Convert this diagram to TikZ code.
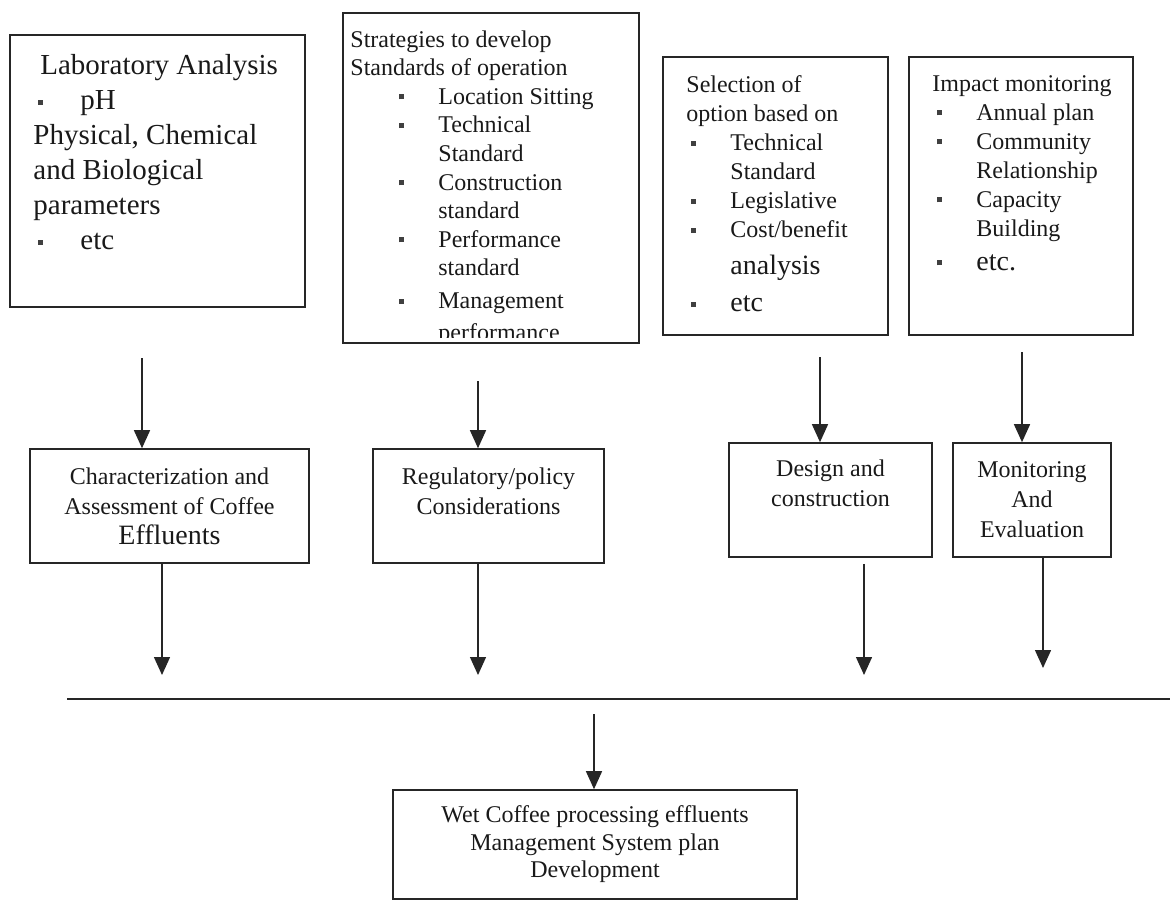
\documentclass[tikz,border=0pt]{standalone}
\usepackage{fontspec}
\setmainfont{Liberation Serif}
\usetikzlibrary{arrows.meta}

% small square bullet and hanging lines
\newcommand{\sqb}{\textcolor{black!75}{\rule[2.4pt]{2.5pt}{2.5pt}}}
\newcommand{\bitem}[2]{\hspace*{#1}\makebox[19.5pt][l]{\sqb}#2}
\newcommand{\bcont}[2]{\hspace*{\dimexpr#1+19.5pt\relax}#2}

\begin{document}
\begin{tikzpicture}[x=0.5pt,y=-0.5pt,
    box/.style={draw=black!85, line width=0.8pt, inner sep=0pt},
    midbox/.style={box, align=center, text=black!90, font=\fontsize{12}{15}\selectfont},
    txt/.style={anchor=north west, inner sep=0pt, align=left, text=black!90, font=\fontsize{12}{14.3}\selectfont},
    arr/.style={draw=black!85, line width=0.7pt, -{Triangle[width=8pt,length=9pt]}}]

    \useasboundingbox (0,0) rectangle (1170,899);

    % top row
    \node [box, minimum width=147.5pt, minimum height=136pt] (lab) at (157.5,171) {};
    \node [txt, font=\fontsize{14.5}{17.5}\selectfont] (labt) at (33,54) {\hspace*{3.5pt}Laboratory Analysis\\
        \hspace*{2.5pt}\makebox[21pt][l]{\sqb}pH\\
        Physical, Chemical\\
        and Biological\\
        parameters\\
        \hspace*{2.5pt}\makebox[21pt][l]{\sqb}etc};

    \node [box, minimum width=148pt, minimum height=165pt] (strat) at (491,178) {};
    \coordinate (cut) at (639,337);
    \begin{scope}
    \clip (strat.north west) rectangle (cut);
    \node [txt] (stratt) at (350,30) {Strategies to develop\\
        Standards of operation\\
        \bitem{24.5pt}{Location Sitting}\\
        \bitem{24.5pt}{Technical}\\
        \bcont{24.5pt}{Standard}\\
        \bitem{24.5pt}{Construction}\\
        \bcont{24.5pt}{standard}\\
        \bitem{24.5pt}{Performance}\\
        \bcont{24.5pt}{standard}\\[2pt]
        \bitem{24.5pt}{Management}\\[1.5pt]
        \bcont{24.5pt}{performance}};
    \end{scope}

    \node [box, minimum width=112.5pt, minimum height=139pt] (sel) at (775.5,196) {};
    \node [txt, font=\fontsize{12}{14.5}\selectfont] (selt) at (686,75) {Selection of\\
        option based on\\
        \bitem{2.5pt}{Technical}\\
        \bcont{2.5pt}{Standard}\\
        \bitem{2.5pt}{Legislative}\\
        \bitem{2.5pt}{Cost/benefit}\\[4pt]
        \bcont{2.5pt}{\fontsize{14}{16}\selectfont analysis}\\[4pt]
        \bitem{2.5pt}{\fontsize{14}{16}\selectfont etc}};

    \node [box, minimum width=112pt, minimum height=139pt] (imp) at (1021,196) {};
    \node [txt, font=\fontsize{12}{14.5}\selectfont] (impt) at (932,75) {Impact monitoring\\
        \bitem{2.5pt}{Annual plan}\\
        \bitem{2.5pt}{Community}\\
        \bcont{2.5pt}{Relationship}\\
        \bitem{2.5pt}{Capacity}\\
        \bcont{2.5pt}{Building}\\[2.5pt]
        \bitem{2.5pt}{\fontsize{14}{16}\selectfont etc.}};

    % middle row
    \node [midbox, minimum width=139.5pt, minimum height=57pt] (char) at (169.5,506)
        {Characterization and\\Assessment of Coffee\\{\fontsize{14}{16}\selectfont Effluents}};
    \node [midbox, minimum width=115.5pt, minimum height=57pt] (reg) at (488.5,506)
        {Regulatory/policy\\Considerations\\[-4.5pt] \strut};
    \node [midbox, minimum width=101.5pt, minimum height=57pt] (des) at (830.5,500)
        {Design and\\construction\\[-3pt] \strut};
    \node [midbox, minimum width=79pt, minimum height=57pt] (mon) at (1032,500)
        {Monitoring\\And\\Evaluation};

    % bottom
    \node [midbox, font=\fontsize{12}{13.75}\selectfont, minimum width=202pt, minimum height=54.5pt]
        (plan) at (595,844.5)
        {Wet Coffee processing effluents\\Management System plan\\Development};

    % arrows down to the middle row
    \coordinate (a1) at (142,358);
    \coordinate (a2) at (478,381);
    \coordinate (a3) at (820,357);
    \coordinate (a4) at (1022,352);
    \draw [arr] (a1) -- (a1 |- char.north);
    \draw [arr] (a2) -- (a2 |- reg.north);
    \draw [arr] (a3) -- (a3 |- des.north);
    \draw [arr] (a4) -- (a4 |- mon.north);

    % arrows down to the line
    \coordinate (b1) at (162,675);
    \coordinate (b2) at (478,675);
    \coordinate (b3) at (864,675);
    \coordinate (b4) at (1043,668);
    \draw [arr] (b1 |- char.south) -- (b1);
    \draw [arr] (b2 |- reg.south) -- (b2);
    \draw [arr] ([yshift=-3pt]b3 |- des.south) -- (b3);
    \draw [arr] (b4 |- mon.south) -- (b4);

    \coordinate (ll) at (67,699);
    \coordinate (lr) at (1170,699);
    \draw [draw=black!85, line width=0.9pt] (ll) -- (lr);

    \coordinate (c0) at (594,714);
    \draw [arr] (c0) -- (c0 |- plan.north);

\end{tikzpicture}
\end{document}
